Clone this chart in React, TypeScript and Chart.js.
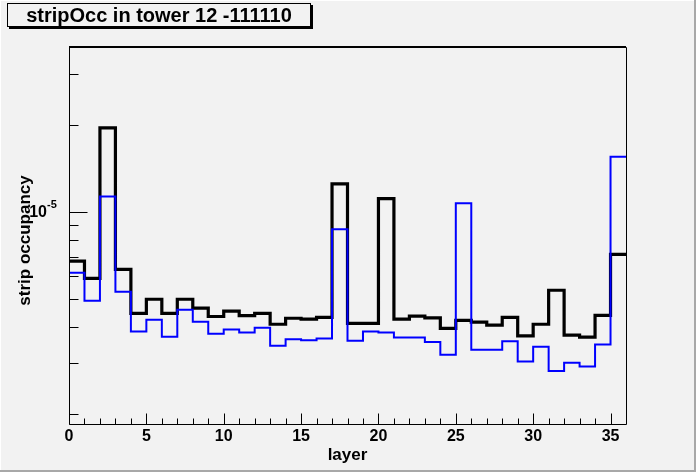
import React, { useEffect, useRef } from "react";
import { Chart, registerables } from "chart.js";

Chart.register(...registerables);

// ---- data ----
const titleText = "stripOcc in tower 12 -111110";
const xTitle = "layer";
const yTitle = "strip occupancy";

const binEdges = [0, 1, 2, 3, 4, 5, 6, 7, 8, 9, 10, 11, 12, 13, 14, 15, 16, 17, 18, 19, 20, 21, 22, 23, 24, 25, 26, 27, 28, 29, 30, 31, 32, 33, 34, 35];
const xMin = 0;
const xMax = 36;

const blackOcc = [
  6.76e-6, 5.89e-6, 1.95e-5, 6.33e-6, 4.46e-6, 4.99e-6, 4.46e-6, 4.99e-6, 4.65e-6, 4.35e-6,
  4.54e-6, 4.38e-6, 4.46e-6, 4.09e-6, 4.29e-6, 4.26e-6, 4.32e-6, 1.25e-5, 4.12e-6, 4.12e-6,
  1.11e-5, 4.26e-6, 4.36e-6, 4.30e-6, 3.96e-6, 4.22e-6, 4.16e-6, 4.06e-6, 4.32e-6, 3.73e-6,
  4.09e-6, 5.36e-6, 3.75e-6, 3.69e-6, 4.39e-6, 7.13e-6,
];
const blueOcc = [
  6.16e-6, 4.93e-6, 1.13e-5, 5.30e-6, 3.86e-6, 4.24e-6, 3.70e-6, 4.59e-6, 4.17e-6, 3.79e-6,
  3.92e-6, 3.83e-6, 3.98e-6, 3.45e-6, 3.63e-6, 3.60e-6, 3.65e-6, 8.70e-6, 3.59e-6, 3.86e-6,
  3.83e-6, 3.68e-6, 3.68e-6, 3.55e-6, 3.21e-6, 1.07e-5, 3.34e-6, 3.34e-6, 3.57e-6, 3.04e-6,
  3.42e-6, 2.82e-6, 3.01e-6, 2.92e-6, 3.48e-6, 1.55e-5,
];

const yMin = 1.85e-6;
const yMax = 3.71e-5;

const xMajorTicks = [0, 5, 10, 15, 20, 25, 30, 35];
const xMinorTicks = [1, 2, 3, 4, 6, 7, 8, 9, 11, 12, 13, 14, 16, 17, 18, 19, 21, 22, 23, 24, 26, 27, 28, 29, 31, 32, 33, 34];
const xTickLabels = ["0", "5", "10", "15", "20", "25", "30", "35"];
const yMinorTicks = [2e-6, 3e-6, 4e-6, 5e-6, 6e-6, 7e-6, 8e-6, 9e-6, 2e-5, 3e-5];
const yMajorTicks = [1e-5];
const yLabelBase = "10";
const yLabelExp = "-5";

const FONT = '"Liberation Sans", Arial, Helvetica, sans-serif';

function toSteps(values: number[]) {
  const pts = values.map((v, i) => ({ x: binEdges[i], y: v }));
  pts.push({ x: xMax, y: values[values.length - 1] });
  return pts;
}

const rootStyle = {
  id: "rootStyle",
  beforeDraw(chart: any) {
    const { ctx, width, height } = chart;
    ctx.save();
    ctx.fillStyle = "#f2f2f2";
    ctx.fillRect(0, 0, width, height);
    ctx.fillStyle = "#ffffff";
    ctx.fillRect(0, 0, width, 1);
    ctx.fillRect(0, 0, 1, height);
    ctx.fillStyle = "#a8a8a8";
    ctx.fillRect(width - 2, 0, 2, height);
    ctx.fillRect(0, height - 2, width, 2);

    // title box
    const bx = 7, by = 3, bw = 304, bh = 24;
    ctx.fillStyle = "#000";
    ctx.fillRect(bx + 2, by + 2, bw, bh);
    ctx.fillStyle = "#f2f2f2";
    ctx.fillRect(bx, by, bw, bh);
    ctx.strokeStyle = "#000";
    ctx.lineWidth = 1;
    ctx.strokeRect(bx + 0.5, by + 0.5, bw - 1, bh - 1);
    ctx.fillStyle = "#000";
    ctx.font = `bold 20px ${FONT}`;
    ctx.textAlign = "center";
    ctx.textBaseline = "alphabetic";
    ctx.fillText(titleText, bx + bw / 2, 22);
    ctx.restore();
  },
  afterDatasetsDraw(chart: any) {
    const { ctx } = chart;
    const xs = chart.scales.x;
    const ys = chart.scales.y;
    const { left, right, top, bottom } = chart.chartArea;
    ctx.save();
    ctx.strokeStyle = "#000";
    ctx.lineWidth = 1;
    // frame
    ctx.beginPath();
    ctx.moveTo(Math.round(left) + 0.5, Math.round(bottom) + 0.5);
    ctx.lineTo(Math.round(left) + 0.5, Math.round(top) + 0.5);
    ctx.lineTo(Math.round(right) + 0.5, Math.round(top) + 0.5);
    ctx.lineTo(Math.round(right) + 0.5, Math.round(bottom) + 0.5);
    ctx.closePath();
    ctx.stroke();
    ctx.lineWidth = 2;
    ctx.beginPath();
    ctx.moveTo(left, Math.round(top));
    ctx.lineTo(right, Math.round(top));
    ctx.stroke();
    ctx.lineWidth = 1;

    // x ticks (inward)
    const L = Math.round(left) + 0.5;
    const B = Math.round(bottom) + 0.5;
    ctx.beginPath();
    xMajorTicks.forEach((v) => {
      const px = Math.round(xs.getPixelForValue(v)) + 0.5;
      ctx.moveTo(px, B);
      ctx.lineTo(px, B - 11);
    });
    xMinorTicks.forEach((v) => {
      const px = Math.round(xs.getPixelForValue(v)) + 0.5;
      ctx.moveTo(px, B);
      ctx.lineTo(px, B - 6);
    });
    // y ticks (inward)
    yMajorTicks.forEach((v) => {
      const py = Math.round(ys.getPixelForValue(v)) + 0.5;
      ctx.moveTo(L, py);
      ctx.lineTo(L + 18, py);
    });
    yMinorTicks.forEach((v) => {
      const py = Math.round(ys.getPixelForValue(v)) + 0.5;
      ctx.moveTo(L, py);
      ctx.lineTo(L + 9, py);
    });
    ctx.stroke();

    // x tick labels
    ctx.fillStyle = "#000";
    ctx.font = `bold 16px ${FONT}`;
    ctx.textAlign = "center";
    ctx.textBaseline = "middle";
    xMajorTicks.forEach((v, i) => {
      ctx.fillText(xTickLabels[i], xs.getPixelForValue(v), bottom + 13);
    });

    // y tick label 10^-5
    yMajorTicks.forEach((v) => {
      const py = ys.getPixelForValue(v);
      ctx.font = `bold 16px ${FONT}`;
      ctx.textAlign = "right";
      ctx.textBaseline = "middle";
      ctx.fillText(yLabelBase, left - 22, py + 1);
      ctx.font = `bold 11px ${FONT}`;
      ctx.textAlign = "left";
      ctx.fillText(yLabelExp, left - 22, py - 7);
    });

    // axis titles
    ctx.font = `bold 17px ${FONT}`;
    ctx.textAlign = "center";
    ctx.textBaseline = "middle";
    ctx.fillText(xTitle, (left + right) / 2, bottom + 31);
    ctx.save();
    ctx.translate(25, (top + bottom) / 2 + 5);
    ctx.rotate(-Math.PI / 2);
    ctx.fillText(yTitle, 0, 0);
    ctx.restore();
    ctx.restore();
  },
};

export default function App() {
  const canvasRef = useRef<HTMLCanvasElement | null>(null);

  useEffect(() => {
    if (!canvasRef.current) return;
    const chart = new Chart(canvasRef.current, {
      type: "line",
      data: {
        datasets: [
          {
            label: "blue",
            data: toSteps(blueOcc),
            borderColor: "#0000ff",
            borderWidth: 2,
            stepped: true,
            pointRadius: 0,
            fill: false,
          },
          {
            label: "black",
            data: toSteps(blackOcc),
            borderColor: "#000000",
            borderWidth: 3.2,
            stepped: true,
            pointRadius: 0,
            fill: false,
          },
        ],
      },
      options: {
        animation: false,
        responsive: false,
        devicePixelRatio: 1,
        layout: { padding: { left: 69, right: 70, top: 47, bottom: 48 } },
        plugins: { legend: { display: false }, tooltip: { enabled: false }, title: { display: false } },
        scales: {
          x: { type: "linear", min: xMin, max: xMax, display: false },
          y: { type: "logarithmic", min: yMin, max: yMax, display: false },
        },
      },
      plugins: [rootStyle],
    });
    return () => chart.destroy();
  }, []);

  return (
    <div style={{ position: "absolute", left: 0, top: 0, width: 696, height: 472 }}>
      <canvas ref={canvasRef} width={696} height={472} style={{ display: "block" }} />
    </div>
  );
}
